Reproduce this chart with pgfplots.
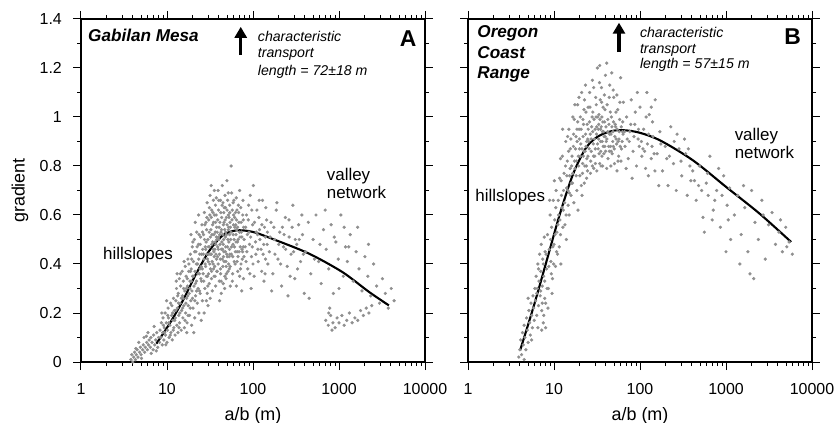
\documentclass[border=0pt]{standalone}
\usepackage{fontspec}
\setmainfont{Liberation Sans}
\usepackage{pgfplots}
\pgfplotsset{compat=1.18}
\usetikzlibrary{arrows.meta}

\tikzset{
  geofit/.style={black, line width=2.1bp, smooth},
}
\newcommand{\lblfont}{\fontsize{17}{17}\selectfont}
\newcommand{\notefont}{\fontsize{14.2}{14.2}\selectfont\itshape}
\newcommand{\sitefont}{\fontsize{17.2}{17.2}\selectfont\bfseries\itshape}
\newcommand{\letterfont}{\fontsize{23}{23}\selectfont\bfseries}
\newcommand{\tickfont}{\fontsize{16}{16}\selectfont}
\newcommand{\axlabfont}{\fontsize{18}{18}\selectfont}

\begin{document}
\begin{tikzpicture}
% ---- A: Gabilan Mesa
\begin{axis}[at={(0,0)}, anchor=south west,
  scale only axis, width=344bp, height=343bp,
  xmode=log, xmin=1, xmax=10000, ymin=0, ymax=1.4,
  xtick={1,10,100,1000,10000}, xticklabels={1,10,100,1000,10000},
  ytick={0,0.2,0.4,0.6,0.8,1,1.2,1.4},
  yticklabels={0,0.2,0.4,0.6,0.8,1,1.2,1.4},
  minor y tick num=1,
  tick align=outside,
  major tick length=8bp, minor tick length=4bp,
  axis line style={line width=1.1bp},
  every tick/.append style={line width=1bp, black},
  every tick label/.append style={font=\tickfont, inner sep=0pt},
  xticklabel shift=13bp, yticklabel shift=11bp,
  every axis label/.append style={font=\axlabfont},
  xlabel={a/b (m)},
  xlabel style={at={(axis description cs:0.5,-0.156)}, anchor=center},
  ylabel={gradient},
  ylabel style={at={(axis description cs:-0.177,0.5)}, anchor=center},
]
\addplot[only marks, mark=*, mark size=1.45bp, color=black!44] coordinates {
(3.8,0.01)(3.9,0.03)(4.0,0.00)(4.1,0.02)(4.2,0.04)(4.3,0.01)(4.4,0.03)(4.5,0.05)(4.6,0.02)(4.8,0.04)
(4.9,0.06)(5.0,0.03)(5.2,0.05)(5.3,0.07)(5.5,0.04)(5.6,0.06)(5.8,0.08)(5.9,0.05)(6.1,0.07)(6.2,0.09)
(6.4,0.06)(6.5,0.10)(6.7,0.08)(6.9,0.05)(7.0,0.11)(7.2,0.07)(7.4,0.09)(7.6,0.12)(7.8,0.06)(8.0,0.10)
(4.7,0.08)(5.4,0.10)(6.0,0.12)(4.35,0.055)(5.05,0.015)(5.75,0.105)(6.55,0.035)(7.1,0.145)(7.5,0.045)
(8.2,0.08)(8.3,0.13)(8.5,0.10)(8.6,0.16)(8.8,0.07)(8.9,0.12)(9.0,0.18)(9.2,0.09)(9.3,0.14)(9.5,0.20)
(9.6,0.11)(9.8,0.16)(10.0,0.08)(10.1,0.13)(10.3,0.22)(10.4,0.18)(10.6,0.10)(10.8,0.15)(11.0,0.24)(11.1,0.12)
(11.3,0.19)(11.5,0.09)(11.7,0.17)(11.9,0.26)(12.0,0.14)(12.2,0.21)(8.7,0.20)(9.9,0.25)
(9.1,0.15)(9.7,0.07)(10.2,0.19)(10.9,0.11)(11.4,0.23)(11.8,0.13)(12.3,0.17)(9.4,0.12)(10.5,0.16)(11.6,0.20)
(12.4,0.11)(12.5,0.18)(12.7,0.25)(12.9,0.30)(13.0,0.15)(13.2,0.22)(13.4,0.12)(13.5,0.28)(13.7,0.19)(13.9,0.34)
(14.0,0.16)(14.2,0.24)(14.4,0.31)(14.6,0.13)(14.8,0.21)(15.0,0.37)(15.1,0.27)(15.3,0.18)(15.5,0.33)(15.7,0.23)
(15.9,0.14)(16.1,0.29)(16.3,0.39)(16.5,0.20)(16.7,0.35)(16.9,0.26)(17.1,0.16)(17.3,0.31)(17.5,0.42)(17.7,0.23)
(17.9,0.37)(18.1,0.28)(13.1,0.36)(15.8,0.41)(17.0,0.12)
(12.6,0.21)(13.3,0.27)(13.8,0.14)(14.3,0.36)(14.7,0.26)(15.2,0.22)(15.6,0.30)(16.2,0.17)(16.6,0.24)(17.2,0.34)
(17.6,0.19)(18.0,0.40)(12.8,0.33)(14.1,0.20)(15.4,0.26)(16.8,0.30)(17.4,0.27)(13.6,0.24)
(18.3,0.19)(18.5,0.33)(18.7,0.44)(18.9,0.25)(19.1,0.38)(19.3,0.15)(19.5,0.29)(19.7,0.47)(19.9,0.35)(20.1,0.22)
(20.3,0.41)(20.6,0.31)(20.8,0.50)(21.0,0.18)(21.2,0.37)(21.5,0.27)(21.7,0.45)(22.0,0.33)(22.2,0.53)(22.5,0.24)
(22.7,0.40)(23.0,0.30)(23.2,0.48)(23.5,0.20)(23.8,0.36)(24.0,0.44)(24.3,0.28)(24.6,0.51)(24.9,0.39)(25.2,0.33)
(25.5,0.56)(25.8,0.25)(26.0,0.46)(19.0,0.52)(21.3,0.57)(23.3,0.60)(25.0,0.17)(20.5,0.12)
(18.4,0.30)(18.8,0.37)(19.4,0.42)(19.8,0.26)(20.4,0.35)(20.9,0.45)(21.4,0.32)(21.9,0.40)(22.4,0.47)(22.9,0.36)
(23.4,0.42)(23.9,0.29)(24.4,0.48)(24.8,0.34)(25.3,0.44)(25.7,0.38)(19.2,0.33)(20.0,0.49)(21.1,0.25)(22.1,0.29)
(23.6,0.52)(24.2,0.38)(25.9,0.53)(18.6,0.22)
(26.3,0.36)(26.6,0.52)(26.9,0.42)(27.2,0.61)(27.5,0.30)(27.8,0.47)(28.1,0.39)(28.4,0.57)(28.7,0.25)(29.0,0.44)
(29.3,0.65)(29.6,0.35)(29.9,0.50)(30.2,0.41)(30.6,0.58)(31.0,0.32)(31.3,0.47)(31.7,0.68)(32.0,0.38)(32.4,0.54)
(32.8,0.44)(33.2,0.62)(33.6,0.29)(34.0,0.49)(34.4,0.40)(34.8,0.57)(35.2,0.35)(35.6,0.70)(36.0,0.46)(36.4,0.53)
(36.8,0.31)(37.2,0.60)(37.6,0.42)(38.0,0.50)(27.0,0.20)(30.0,0.23)(32.6,0.72)(34.6,0.66)(28.9,0.54)(31.5,0.60)
(33.0,0.37)(35.0,0.45)(36.6,0.64)(29.4,0.28)(31.8,0.26)(37.8,0.55)
(26.4,0.44)(26.8,0.33)(27.3,0.50)(27.7,0.40)(28.2,0.46)(28.6,0.35)(29.1,0.59)(29.5,0.42)(30.1,0.47)(30.4,0.36)
(30.9,0.53)(31.4,0.40)(31.9,0.51)(32.2,0.44)(32.7,0.59)(33.1,0.48)(33.5,0.41)(33.9,0.56)(34.3,0.46)(34.7,0.38)
(35.1,0.52)(35.5,0.60)(35.9,0.39)(36.3,0.49)(36.7,0.57)(37.1,0.44)(37.5,0.51)(37.9,0.37)(27.6,0.56)(29.8,0.31)
(31.1,0.63)(32.9,0.34)(34.2,0.61)(36.2,0.35)(37.4,0.67)(28.5,0.49)(30.7,0.44)(33.4,0.52)(35.4,0.43)(36.9,0.48)
(38.5,0.37)(39.0,0.58)(39.5,0.46)(40.0,0.66)(40.5,0.33)(41.0,0.52)(41.6,0.42)(42.2,0.61)(42.8,0.28)(43.4,0.49)
(44.0,0.72)(44.6,0.39)(45.2,0.56)(45.8,0.45)(46.4,0.63)(47.0,0.35)(47.7,0.51)(48.4,0.41)(49.1,0.59)(49.8,0.74)
(50.5,0.47)(51.2,0.37)(52.0,0.55)(52.8,0.43)(53.6,0.64)(54.4,0.31)(55.0,0.50)(39.2,0.70)(40.8,0.25)(43.0,0.54)
(45.0,0.32)(47.3,0.68)(49.5,0.44)(51.8,0.60)(53.0,0.38)(41.3,0.48)(46.0,0.57)(48.0,0.53)(50.0,0.62)(42.0,0.36)
(44.3,0.46)(47.6,0.45)(52.4,0.49)(54.0,0.57)(38.8,0.43)(43.7,0.64)(46.7,0.30)(51.5,0.69)(40.3,0.55)(45.5,0.50)
(49.0,0.36)(53.3,0.46)(55.7,0.80)
(38.3,0.53)(38.9,0.47)(39.4,0.40)(39.8,0.62)(40.2,0.50)(40.7,0.44)(41.2,0.57)(41.8,0.38)(42.4,0.53)(42.9,0.46)
(43.2,0.59)(43.9,0.42)(44.5,0.52)(45.1,0.48)(45.7,0.61)(46.2,0.41)(46.9,0.54)(47.4,0.58)(48.2,0.47)(48.8,0.39)
(49.3,0.52)(49.9,0.56)(50.3,0.43)(50.9,0.50)(51.6,0.54)(52.2,0.40)(52.6,0.59)(53.4,0.52)(53.9,0.44)(54.6,0.55)
(39.7,0.51)(41.9,0.66)(44.8,0.65)(47.9,0.63)(50.7,0.66)(53.7,0.61)(42.6,0.33)(48.6,0.34)(54.2,0.39)(45.3,0.43)
(56.0,0.44)(57.0,0.58)(58.0,0.36)(59.0,0.52)(60.0,0.66)(61.0,0.47)(62.0,0.40)(63.0,0.56)(64.0,0.31)(65.0,0.62)
(66.0,0.49)(67.0,0.43)(68.5,0.57)(70.0,0.70)(71.5,0.38)(73.0,0.53)(74.5,0.46)(76.0,0.60)(77.5,0.34)(79.0,0.50)
(56.5,0.69)(58.5,0.48)(60.5,0.41)(62.5,0.61)(64.5,0.54)(66.5,0.37)(69.0,0.45)(72.0,0.63)(75.0,0.42)(78.0,0.55)
(57.5,0.33)(61.5,0.55)(65.5,0.45)(70.5,0.51)(74.0,0.29)(59.5,0.60)(63.5,0.49)(67.5,0.64)(72.5,0.40)(77.0,0.47)
(55.5,0.53)(56.3,0.47)(57.3,0.62)(58.2,0.43)(59.3,0.56)(60.2,0.50)(61.2,0.59)(62.2,0.45)(63.3,0.52)(64.2,0.58)
(65.3,0.41)(66.3,0.55)(67.3,0.50)(68.2,0.61)(69.5,0.53)(71.0,0.47)(72.8,0.57)(74.2,0.51)(75.8,0.45)(77.2,0.58)
(78.6,0.43)(58.8,0.65)(63.8,0.67)(69.8,0.35)(76.5,0.66)
(81,0.47)(84,0.60)(87,0.38)(90,0.53)(93,0.68)(96,0.43)(99,0.56)(103,0.35)(107,0.49)(111,0.62)
(115,0.41)(119,0.54)(124,0.46)(129,0.66)(134,0.33)(139,0.51)(144,0.58)(149,0.40)(83,0.41)(89,0.64)
(95,0.30)(101,0.72)(108,0.44)(117,0.59)(126,0.37)(136,0.55)(146,0.48)(86,0.52)(98,0.47)(113,0.52)
(131,0.44)(141,0.63)
(82,0.55)(85,0.45)(88,0.58)(91,0.48)(94,0.51)(97,0.62)(100,0.40)(104,0.57)(109,0.53)(114,0.46)
(120,0.50)(127,0.56)(133,0.48)(140,0.42)(147,0.53)(92,0.36)(118,0.66)(138,0.36)
(155,0.45)(162,0.57)(170,0.36)(178,0.50)(186,0.62)(195,0.42)(205,0.53)(215,0.31)(226,0.47)(238,0.59)
(250,0.39)(263,0.51)(277,0.44)(291,0.64)(306,0.34)(322,0.48)(339,0.56)(357,0.41)(376,0.52)(395,0.28)
(165,0.29)(190,0.65)(220,0.55)(255,0.27)(285,0.55)(330,0.38)(370,0.60)(180,0.44)(240,0.46)(310,0.50)
(158,0.51)(175,0.55)(199,0.48)(230,0.52)(262,0.58)(296,0.45)(345,0.50)(385,0.44)(210,0.40)(270,0.35)
(410,0.45)(440,0.57)(470,0.36)(500,0.50)(540,0.60)(580,0.41)(620,0.32)(660,0.54)(710,0.46)(760,0.38)
(810,0.56)(860,0.28)(920,0.49)(980,0.42)(1050,0.60)(1120,0.35)(1190,0.47)(450,0.26)(520,0.42)(600,0.48)
(690,0.62)(780,0.22)(880,0.51)(1000,0.30)(1150,0.55)
(700,0.17)(750,0.15)(800,0.19)(850,0.16)(900,0.14)(950,0.18)(1000,0.16)(1080,0.19)(1150,0.15)(1230,0.17)
(1320,0.20)(1420,0.16)(1530,0.18)(1650,0.17)(1780,0.21)(1920,0.19)(2070,0.22)(2230,0.20)(2400,0.23)(760,0.20)
(830,0.13)
(1250,0.41)(1350,0.52)(1460,0.33)(1580,0.45)(1710,0.38)(1850,0.29)(2000,0.43)(2160,0.35)(2340,0.27)(2530,0.40)
(2740,0.31)(2960,0.24)(3200,0.34)(3460,0.28)(3740,0.22)(4050,0.30)(4380,0.25)(1300,0.47)(1650,0.55)(2200,0.48)
};
\addplot[geofit] coordinates {
(7.53,0.075)(10.74,0.157)(15.35,0.252)(21.9,0.361)(31.3,0.456)(44.6,0.517)(63.7,0.537)
(99.3,0.531)(185,0.497)(450,0.442)(1096,0.367)(2234,0.286)(3802,0.231)
};
\draw[-{Triangle[width=12bp,length=11bp]}, line width=3.5bp] (axis cs:72,1.253) -- (axis cs:72,1.368);
\node[anchor=base west, inner sep=0pt, font=\sitefont] at (axis cs:1.206,1.307) {Gabilan Mesa};
\node[anchor=base west, inner sep=0pt, font=\notefont] at (axis cs:113.5,1.307) {characteristic};
\node[anchor=base west, inner sep=0pt, font=\notefont] at (axis cs:113.5,1.241) {transport};
\node[anchor=base west, inner sep=0pt, font=\notefont] at (axis cs:113.5,1.171) {length = 72±18 m};
\node[anchor=base east, inner sep=0pt, font=\letterfont] at (axis cs:8000,1.287) {A};
\node[anchor=base west, inner sep=0pt, font=\lblfont] at (axis cs:1.80,0.418) {hillslopes};
\node[anchor=base west, inner sep=0pt, font=\lblfont] at (axis cs:719,0.742) {valley};
\node[anchor=base west, inner sep=0pt, font=\lblfont] at (axis cs:719,0.667) {network};
\end{axis}

% ---- B: Oregon Coast Range
\begin{axis}[at={(387bp,0)}, anchor=south west,
  scale only axis, width=344bp, height=343bp,
  xmode=log, xmin=1, xmax=10000, ymin=0, ymax=1.4,
  xtick={1,10,100,1000,10000}, xticklabels={1,10,100,1000,10000},
  ytick={0,0.2,0.4,0.6,0.8,1,1.2,1.4},
  yticklabels={},
  minor y tick num=1,
  tick align=outside,
  major tick length=8bp, minor tick length=4bp,
  axis line style={line width=1.1bp},
  every tick/.append style={line width=1bp, black},
  every tick label/.append style={font=\tickfont, inner sep=0pt},
  xticklabel shift=13bp,
  every axis label/.append style={font=\axlabfont},
  xlabel={a/b (m)},
  xlabel style={at={(axis description cs:0.5,-0.156)}, anchor=center},
]
\addplot[only marks, mark=*, mark size=1.45bp, color=black!44] coordinates {
(3.9,0.02)(4.0,0.05)(4.1,0.09)(4.2,0.03)(4.3,0.12)(4.4,0.07)(4.5,0.15)(4.6,0.10)(4.7,0.05)(4.8,0.18)
(4.9,0.13)(5.0,0.08)(5.1,0.21)(5.2,0.16)(5.3,0.11)(5.4,0.24)(5.5,0.19)(5.6,0.14)(5.7,0.27)(5.8,0.22)
(5.9,0.17)(6.0,0.30)(4.5,0.01)(5.0,0.26)(5.5,0.09)
(6.1,0.25)(6.2,0.35)(6.3,0.19)(6.4,0.30)(6.5,0.40)(6.6,0.23)(6.7,0.33)(6.8,0.44)(6.9,0.27)(7.0,0.37)
(7.1,0.48)(7.2,0.21)(7.3,0.31)(7.4,0.42)(7.5,0.16)(7.6,0.35)(7.7,0.51)(7.8,0.26)(7.9,0.45)(8.0,0.14)
(7.2,0.13)(7.6,0.19)(6.5,0.14)
(6.3,0.28)(6.6,0.38)(7.0,0.29)(7.3,0.24)(7.5,0.40)(7.8,0.33)(8.1,0.44)(8.3,0.30)(8.7,0.39)(9.1,0.50)
(9.3,0.36)(9.7,0.47)(10.3,0.52)(10.7,0.45)(11.1,0.56)(9.9,0.40)(8.0,0.24)
(8.2,0.38)(8.4,0.52)(8.6,0.30)(8.8,0.46)(9.0,0.60)(9.2,0.41)(9.4,0.55)(9.6,0.34)(9.8,0.66)(10.0,0.48)
(10.2,0.58)(10.4,0.39)(10.6,0.70)(10.8,0.53)(11.0,0.44)(8.5,0.22)(9.5,0.28)(10.5,0.63)(8.9,0.66)(10.1,0.74)
(11.3,0.60)(11.6,0.75)(11.9,0.52)(12.2,0.68)(12.5,0.84)(12.8,0.62)(13.1,0.77)(13.4,0.56)(13.7,0.90)(14.0,0.71)
(14.3,0.82)(14.6,0.64)(14.9,0.95)(15.2,0.76)(15.5,0.87)(15.8,0.68)(16.0,0.80)(11.5,0.47)(12.6,0.95)(13.9,0.50)
(15.0,0.60)(12.0,0.40)
(11.2,0.66)(11.7,0.58)(12.1,0.74)(12.4,0.63)(12.9,0.70)(13.3,0.65)(13.6,0.80)(14.1,0.76)(14.5,0.70)(14.8,0.86)
(15.1,0.69)(15.4,0.79)(15.7,0.91)(15.9,0.73)(12.7,0.55)(13.8,0.60)(14.4,0.92)(11.9,0.83)
(16.4,0.73)(16.8,0.88)(17.2,0.99)(17.6,0.79)(18.0,0.92)(18.4,0.70)(18.8,1.05)(19.2,0.84)(19.6,0.95)(20.0,0.76)
(20.5,0.89)(21.0,1.10)(21.5,0.81)(22.0,0.97)(22.5,0.73)(23.0,0.86)(23.5,1.02)(24.0,0.90)(24.5,0.78)(25.0,0.95)
(17.0,0.65)(19.0,0.62)(21.2,0.68)(23.2,1.13)(24.8,0.84)(18.2,0.82)(20.2,1.00)(22.2,0.86)(16.6,1.00)(19.8,0.87)
(21.8,0.92)(23.8,0.80)
(16.2,0.84)(16.5,0.77)(16.9,0.93)(17.3,0.82)(17.8,0.87)(18.1,0.76)(18.6,0.90)(18.9,0.98)(19.4,0.80)(19.7,0.91)
(20.3,0.84)(20.7,0.95)(21.1,0.87)(21.4,0.77)(21.9,0.84)(22.3,1.03)(22.8,0.80)(23.3,0.93)(23.6,0.88)(24.1,0.83)
(24.3,0.97)(24.7,0.91)(17.5,1.05)(19.5,1.08)(20.8,0.72)(22.6,1.07)(24.9,1.04)(18.5,0.95)(21.7,0.99)(23.9,0.75)
(25.6,0.87)(26.2,1.04)(26.8,0.82)(27.4,0.96)(28.0,1.15)(28.6,0.89)(29.2,0.99)(29.8,0.84)(30.5,1.08)(31.2,0.93)
(31.9,1.20)(32.6,0.87)(33.3,1.01)(34.0,0.81)(34.8,0.95)(35.6,1.12)(36.4,0.90)(37.2,1.04)(38.0,0.85)(38.8,0.98)
(39.6,1.17)(26.5,0.77)(29.0,0.79)(31.5,0.78)(34.4,1.07)(36.8,0.80)(39.0,0.88)(27.0,0.91)(30.0,0.95)(33.0,0.91)
(35.0,0.86)(37.6,0.94)(28.3,1.02)(32.3,1.00)(36.0,1.00)(39.3,0.92)(41,1.22)(34,1.21)
(25.3,0.90)(25.9,0.98)(26.4,0.93)(27.1,0.86)(27.7,1.00)(28.2,0.94)(28.8,0.84)(29.5,0.91)(30.2,0.87)(30.8,1.00)
(31.4,0.96)(32.1,0.89)(32.8,0.95)(33.5,0.85)(34.2,0.99)(34.9,0.90)(35.4,0.96)(36.1,0.84)(36.6,0.94)(37.4,0.88)
(38.3,0.92)(39.1,1.03)(39.8,0.86)(26.0,1.10)(28.9,1.12)(31.0,1.05)(33.8,1.14)(35.8,1.06)(38.5,1.09)(30.3,0.81)
(35.2,0.80)(27.9,0.80)(33.1,0.97)(37.0,0.98)
(40.5,0.90)(41.5,1.05)(42.5,0.83)(43.5,0.97)(44.5,1.13)(45.5,0.88)(46.5,1.00)(47.5,0.85)(48.5,0.94)(49.5,1.08)
(50.5,0.81)(52.0,0.96)(53.5,0.89)(55.0,1.03)(56.5,0.84)(58.0,0.99)(59.5,1.16)(61.0,0.87)(62.5,0.94)(64.0,1.06)
(41.0,0.79)(44.0,0.86)(47.0,1.18)(51.0,0.92)(54.0,0.78)(57.0,0.91)(60.0,0.82)(63.0,0.98)(42.0,0.94)(46.0,0.93)
(49.0,0.88)(52.5,1.02)
(40.2,0.96)(41.2,0.91)(42.2,0.99)(43.2,0.88)(44.2,0.93)(45.2,1.02)(46.2,0.86)(47.2,0.96)(48.2,0.90)(49.2,0.98)
(50.2,0.87)(51.5,0.97)(52.8,0.91)(54.3,0.95)(55.8,0.90)(57.4,0.94)(58.8,0.88)(60.5,0.96)(62.0,0.90)(63.6,0.93)
(43.8,1.08)(48.8,1.11)(53.8,1.09)(58.4,1.06)(45.8,0.80)(55.5,0.82)
(67,0.88)(70,1.00)(73,0.83)(76,0.94)(79,1.07)(83,0.86)(87,0.97)(91,0.80)(95,0.91)(100,1.04)
(105,0.84)(110,0.95)(116,0.79)(122,0.89)(128,1.01)(135,0.83)(142,0.92)(149,0.78)(69,0.79)(81,0.75)
(93,1.10)(108,0.87)(125,0.76)(140,0.98)(75,0.90)(98,0.88)(120,1.10)(150,1.07)(135,1.04)
(66,0.94)(71,0.91)(78,0.97)(85,0.92)(96,0.95)(104,0.90)(113,0.86)(126,0.93)(138,0.88)(146,0.85)
(88,1.02)(118,1.00)
(158,0.85)(170,0.94)(183,0.78)(197,0.88)(212,0.72)(228,0.96)(245,0.81)(264,0.70)(284,0.87)(306,0.76)
(329,0.91)(354,0.68)(381,0.80)(165,0.72)(220,0.84)(270,0.93)(340,0.85)(390,0.74)
(175,0.89)(205,0.83)(250,0.90)(300,0.82)(365,0.87)(430,0.74)(520,0.70)(610,0.77)(740,0.66)(900,0.68)
(1060,0.58)(690,0.58)
(410,0.78)(450,0.66)(490,0.80)(540,0.59)(590,0.73)(650,0.84)(710,0.62)(780,0.70)(860,0.55)(940,0.76)
(1030,0.64)(1130,0.50)(480,0.72)(620,0.68)(820,0.79)(1000,0.45)(1100,0.71)(560,0.53)
(1250,0.60)(1370,0.68)(1500,0.52)(1650,0.63)(1800,0.45)(1980,0.70)(2170,0.57)(2380,0.50)(2610,0.66)(2860,0.42)
(3130,0.56)(3430,0.61)(3760,0.48)(4120,0.53)(4520,0.45)(4950,0.55)(5420,0.49)(5900,0.44)(1450,0.40)(1900,0.36)
(2100,0.34)(1600,0.72)(2700,0.60)(4300,0.58)(5100,0.47)
};
\addplot[geofit] coordinates {
(4.04,0.048)(5.77,0.224)(8.24,0.415)(11.75,0.606)(16.75,0.769)(23.99,0.878)(34.2,0.925)
(53.5,0.946)(91,0.939)(170,0.905)(413,0.823)(1007,0.714)(2449,0.606)(5715,0.49)
};
\draw[-{Triangle[width=12bp,length=11bp]}, line width=3.5bp] (axis cs:57,1.265) -- (axis cs:57,1.385);
\node[anchor=base west, inner sep=0pt, font=\sitefont] at (axis cs:1.28,1.3235) {Oregon};
\node[anchor=base west, inner sep=0pt, font=\sitefont] at (axis cs:1.28,1.239) {Coast};
\node[anchor=base west, inner sep=0pt, font=\sitefont] at (axis cs:1.28,1.158) {Range};
\node[anchor=base west, inner sep=0pt, font=\notefont] at (axis cs:99.5,1.3235) {characteristic};
\node[anchor=base west, inner sep=0pt, font=\notefont] at (axis cs:99.5,1.259) {transport};
\node[anchor=base west, inner sep=0pt, font=\notefont] at (axis cs:99.5,1.198) {length = 57±15 m};
\node[anchor=base east, inner sep=0pt, font=\letterfont] at (axis cs:7450,1.294) {B};
\node[anchor=base west, inner sep=0pt, font=\lblfont] at (axis cs:1.215,0.654) {hillslopes};
\node[anchor=base west, inner sep=0pt, font=\lblfont] at (axis cs:1257,0.905) {valley};
\node[anchor=base west, inner sep=0pt, font=\lblfont] at (axis cs:1257,0.831) {network};
\end{axis}
\pgfresetboundingbox
\path (-81bp,-61bp) rectangle (759bp,362bp);
\end{tikzpicture}
\end{document}
